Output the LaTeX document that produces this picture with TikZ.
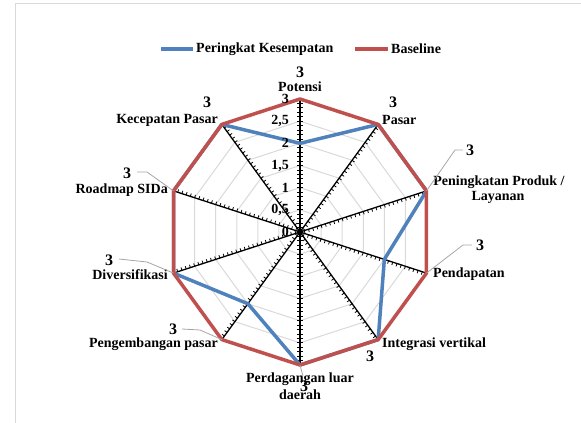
\documentclass[tikz,border=0pt]{standalone}
\usepackage{fontspec}
\setmainfont{Liberation Serif}
\definecolor{sblue}{HTML}{4F81BD}
\definecolor{sred}{HTML}{C0504D}
\definecolor{gridc}{HTML}{D9D9D9}
\definecolor{leadc}{HTML}{A6A6A6}
\begin{document}
\begin{tikzpicture}[x=1pt,y=-1pt,
  lbl/.style={font=\fontsize{14}{14}\selectfont\bfseries, inner sep=0pt},
  val/.style={font=\fontsize{16}{16}\selectfont\bfseries, inner sep=0pt},
  leader/.style={draw=leadc, line width=0.8pt},
  gridline/.style={draw=gridc, line width=1pt},
  axisline/.style={draw=black, line width=1.3pt},
  tickline/.style={draw=black, line width=0.8pt},
  series/.style={line width=3.5pt, line join=round, line cap=round}]
\useasboundingbox (0,0) rectangle (581,423);
% frame
\draw[draw=gridc, line width=1.5pt] (15.5,423) -- (15.5,3.5) -- (581,3.5);
\coordinate (C) at (300,232);
\foreach \i in {0,...,9}{
  \coordinate (v\i) at ({300+133*sin(36*\i)},{232-133*cos(36*\i)});
}
% grid polygons
\foreach \k in {1,...,5}{
  \draw[gridline] ({300+133*\k/6*sin(0)},{232-133*\k/6*cos(0)})
    \foreach \i in {1,...,9}{ -- ({300+133*\k/6*sin(36*\i)},{232-133*\k/6*cos(36*\i)}) } -- cycle;
}
% axes with ticks
\foreach \i in {0,...,9}{
  \draw[axisline] (C) -- (v\i);
  \pgfmathsetmacro\lo{(\i==0||\i==5)?-3:0}
  \foreach \k in {1,...,30}{
    \pgfmathsetmacro\r{133*\k/30}
    \draw[tickline] ({300+\r*sin(36*\i)+\lo*cos(36*\i)},{232-\r*cos(36*\i)+\lo*sin(36*\i)})
      -- ({300+\r*sin(36*\i)+3*cos(36*\i)},{232-\r*cos(36*\i)+3*sin(36*\i)});
  }
}
% blue series
\foreach \v [count=\j from 0] in {2,3,3,2,3,3,2,3,3,3}{
  \coordinate (b\j) at ({300+133*\v/3*sin(36*\j)},{232-133*\v/3*cos(36*\j)});
}
\draw[series, draw=sblue] (b0) -- (b1) -- (b2) -- (b3) -- (b4) -- (b5) -- (b6) -- (b7) -- (b8) -- (b9) -- cycle;
% red series
\draw[series, draw=sred] (v0) -- (v1) -- (v2) -- (v3) -- (v4) -- (v5) -- (v6) -- (v7) -- (v8) -- (v9) -- cycle;
\fill[black] (C) circle (3.2);
% axis value labels
\foreach \v/\t in {0/0,0.5/{0,5},1/1,1.5/{1,5},2/2,2.5/{2,5},3/3}{
  \node[lbl, anchor=east] (al\v) at (289,{232-44.33*\v}) {\t};
}
% legend
\coordinate (lb1) at (161,49); \coordinate (lb2) at (193,49);
\draw[series, draw=sblue, line cap=butt] (lb1) -- (lb2);
\node[lbl, anchor=west] (lgb) at (196,49) {Peringkat Kesempatan};
\coordinate (lr1) at (355,49); \coordinate (lr2) at (388,49);
\draw[series, draw=sred, line cap=butt] (lr1) -- (lr2);
\node[lbl, anchor=west] (lgr) at (391,49) {Baseline};
% category labels and data labels
\node[val] (d0) at (300,72) {3};
\node[lbl] (c0) at (300,87) {Potensi};
\node[val] (d1) at (393,102) {3};
\node[lbl, anchor=west] (c1) at (382,120) {Pasar};
\node[val] (d2) at (470,150) {3};
\node[lbl] (c2a) at (499,182) {Peningkatan Produk /};
\node[lbl] (c2b) at (498,197) {Layanan};
\coordinate (l2a) at (455,150); \coordinate (l2b) at (463,150);
\draw[leader] (v2) -- (l2a) -- (l2b);
\node[val] (d3) at (480,245) {3};
\node[lbl, anchor=west] (c3) at (433,274) {Pendapatan};
\coordinate (l3a) at (463,245); \coordinate (l3b) at (472,245);
\draw[leader] (v3) -- (l3a) -- (l3b);
\node[val] (d4) at (370,356) {3};
\node[lbl, anchor=west] (c4) at (382,344) {Integrasi vertikal};
\coordinate (l5a) at (303,376);
\draw[leader] (v5) -- (l5a);
\node[lbl] (c5a) at (300,379) {Perdagangan luar};
\node[lbl] (c5b) at (300,395) {daerah};
\node[val] (d5) at (304,386) {3};
\node[val] (d6) at (173,329) {3};
\node[lbl, anchor=east] (c6) at (218,344) {Pengembangan pasar};
\coordinate (l6a) at (182,329); \coordinate (l6b) at (200,330);
\draw[leader] (l6a) -- (l6b) -- (v6);
\node[val] (d7) at (109,260) {3};
\node[lbl, anchor=east] (c7) at (168,275) {Diversifikasi};
\coordinate (l7a) at (119,259); \coordinate (l7b) at (147,262);
\draw[leader] (l7a) -- (l7b) -- (v7);
\node[val] (d8) at (127,173) {3};
\node[lbl, anchor=east] (c8) at (168,190) {Roadmap SIDa};
\coordinate (l8a) at (137,172); \coordinate (l8b) at (147,172);
\draw[leader] (l8a) -- (l8b) -- (v8);
\node[val] (d9) at (207,102) {3};
\node[lbl, anchor=east] (c9) at (218,120) {Kecepatan Pasar};
\end{tikzpicture}
\end{document}
